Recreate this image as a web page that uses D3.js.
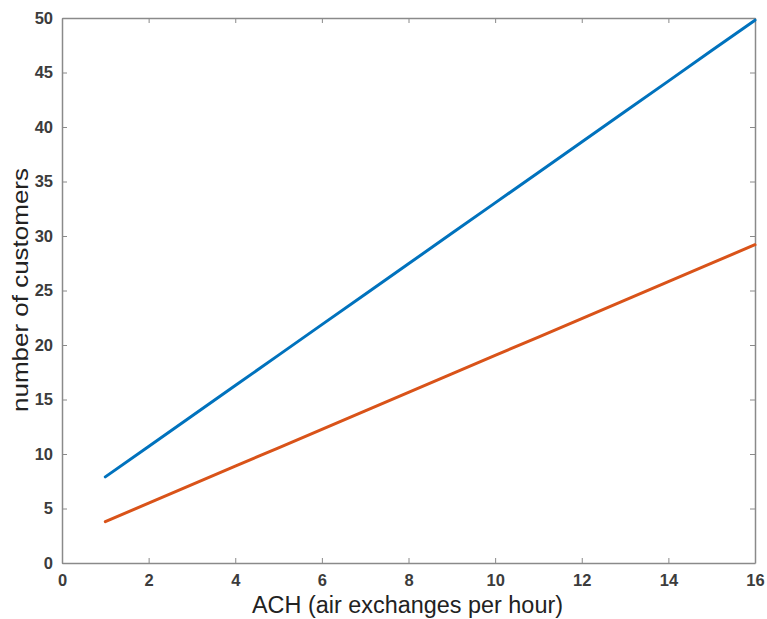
<!DOCTYPE html>
<html><head><meta charset="utf-8">
<script src="https://cdn.jsdelivr.net/npm/d3@7"></script>
<style>body{margin:0;background:#fff;} text{font-family:"Liberation Sans",Arial,sans-serif;}</style>
</head><body><svg id="c" width="767" height="619"></svg>
<script>
const ach = [1,2,3,4,5,6,7,8,9,10,11,12,13,14,15,16];
const blueSeries = [7.9,10.69,13.49,16.28,19.07,21.87,24.66,27.45,30.25,33.04,35.83,38.63,41.42,44.21,47.01,49.8];
const orangeSeries = [3.8,5.49,7.19,8.88,10.57,12.27,13.96,15.65,17.35,19.04,20.73,22.43,24.12,25.81,27.51,29.2];
const xTicks = [0,2,4,6,8,10,12,14,16];
const yTicks = [0,5,10,15,20,25,30,35,40,45,50];
const xLabel = "ACH (air exchanges per hour)";
const yLabel = "number of customers";

const svg = d3.select("#c");
const L=62,R=755,T=18,B=563;
const x = d3.scaleLinear().domain([0,16]).range([L,R]);
const y = d3.scaleLinear().domain([0,50]).range([B,T]);
const axisColor="#8a8a8a", textColor="#3c3c3c";

function styleAxis(g, showText){
  g.select(".domain").attr("stroke",axisColor).attr("stroke-width",1.5);
  g.selectAll(".tick line").attr("stroke",axisColor).attr("stroke-width",1);
  g.selectAll(".tick text").attr("fill",textColor).attr("font-size",16.5).attr("font-weight","bold")
    .style("display", showText?null:"none");
}
svg.append("g").attr("transform",`translate(0,${B})`)
  .call(d3.axisBottom(x).tickValues(xTicks).tickSizeInner(-5).tickSizeOuter(0).tickPadding(11))
  .call(g=>styleAxis(g,true));
svg.append("g").attr("transform",`translate(0,${T})`)
  .call(d3.axisTop(x).tickValues(xTicks).tickSizeInner(-5).tickSizeOuter(0))
  .call(g=>styleAxis(g,false));
svg.append("g").attr("transform",`translate(${L},0)`)
  .call(d3.axisLeft(y).tickValues(yTicks).tickSizeInner(-5).tickSizeOuter(0).tickPadding(9))
  .call(g=>styleAxis(g,true));
svg.append("g").attr("transform",`translate(${R},0)`)
  .call(d3.axisRight(y).tickValues(yTicks).tickSizeInner(-5).tickSizeOuter(0))
  .call(g=>styleAxis(g,false));
svg.selectAll(".domain").attr("fill","none");

const line = d3.line().x((d,i)=>x(ach[i])).y(d=>y(d));
svg.append("path").datum(blueSeries).attr("d",line).attr("fill","none")
  .attr("stroke","#0072BD").attr("stroke-width",3).attr("stroke-linecap","round");
svg.append("path").datum(orangeSeries).attr("d",line).attr("fill","none")
  .attr("stroke","#D95319").attr("stroke-width",3).attr("stroke-linecap","round");

svg.append("text").attr("x",407.5).attr("y",613).attr("text-anchor","middle")
  .attr("font-size",23).attr("fill","#222")
  .attr("textLength",311).attr("lengthAdjust","spacingAndGlyphs").text(xLabel);
svg.append("text").attr("transform",`translate(27.5,290) rotate(-90)`).attr("text-anchor","middle")
  .attr("font-size",21.5).attr("fill","#222")
  .attr("textLength",244).attr("lengthAdjust","spacingAndGlyphs").text(yLabel);
</script></body></html>
